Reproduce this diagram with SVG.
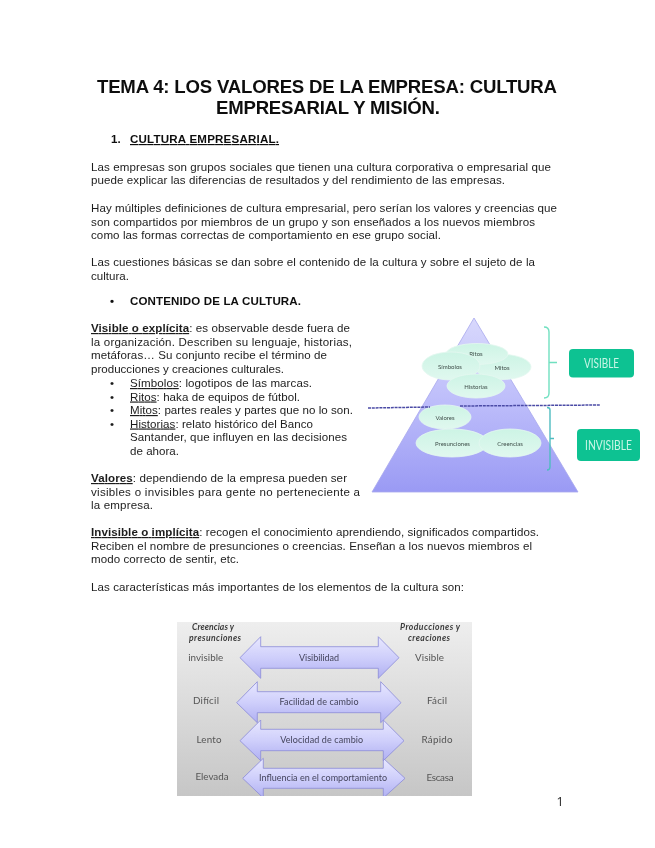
<svg xmlns="http://www.w3.org/2000/svg" width="655" height="848" viewBox="0 0 655 848">
<style>
text{font-family:"Liberation Sans",Arial,sans-serif;fill:#1c1c1c}
.b{font-size:11.55px}
.t{font-size:18.6px;font-weight:bold;fill:#111}
.h{font-size:11.55px;font-weight:bold;fill:#111}
.u{text-decoration:underline}
.bu{font-weight:bold;text-decoration:underline}
.pl{font-family:Lato,"Open Sans",sans-serif;font-size:6px;fill:#3f4f4a;text-anchor:middle}
.tag{font-family:Lato,"Open Sans",sans-serif;fill:#c8f5e6;text-anchor:middle;font-size:13px}
.al{font-family:Lato,"Open Sans",sans-serif;font-size:9.8px;fill:#555;text-anchor:middle}
.ar{font-family:Lato,"Open Sans",sans-serif;font-size:9px;fill:#44445c;text-anchor:middle}
.ah{font-family:Lato,"Open Sans",sans-serif;font-size:8.6px;font-style:italic;font-weight:bold;fill:#3c3c3c;text-anchor:middle}
.el{fill:url(#eg);stroke:#e4f8f0;stroke-width:.8}
.arrow{fill:url(#ag);stroke:#8a8ad8;stroke-width:.8}
.br{fill:none;stroke:#70e0c0;stroke-width:1.4}
.dash{fill:none;stroke:#4c4ca6;stroke-width:1.5;stroke-dasharray:3 .8}
</style>
<defs>
<linearGradient id="pg" x1="0" y1="0" x2="0" y2="1"><stop offset="0" stop-color="#d8d8fc"/><stop offset=".5" stop-color="#bcbcfa"/><stop offset="1" stop-color="#9a9af4"/></linearGradient>
<linearGradient id="eg" x1="0" y1="0" x2="0" y2="1"><stop offset="0" stop-color="#cdf4e5"/><stop offset="1" stop-color="#e0f8ef"/></linearGradient>
<linearGradient id="ag" x1="0" y1="0" x2="0" y2="1"><stop offset="0" stop-color="#e8e8ff"/><stop offset=".5" stop-color="#cfcffb"/><stop offset="1" stop-color="#b0b0f2"/></linearGradient>
<linearGradient id="gg" x1="0" y1="0" x2="0" y2="1"><stop offset="0" stop-color="#eeeeee"/><stop offset=".5" stop-color="#dadada"/><stop offset="1" stop-color="#c6c6c6"/></linearGradient>
<filter id="s" x="-5%" y="-5%" width="110%" height="110%"><feGaussianBlur stdDeviation="0.5"/></filter>
<filter id="s2" x="-5%" y="-5%" width="110%" height="110%"><feGaussianBlur stdDeviation="0.25"/></filter>
<clipPath id="c2"><rect x="177" y="622" width="295" height="174"/></clipPath>
</defs>
<rect width="655" height="848" fill="#fff"/>

<g id="page-text" filter="url(#s2)">
<text class="t" x="97" y="93" textLength="460">TEMA 4: LOS VALORES DE LA EMPRESA: CULTURA</text>
<text class="t" x="216" y="113.500" textLength="224">EMPRESARIAL Y MISIÓN.</text>
<text class="h" x="111" y="143">1.</text>
<text class="h u" x="130" y="143" textLength="149">CULTURA EMPRESARIAL.</text>
<text class="b" x="91" y="170.500" textLength="460">Las empresas son grupos sociales que tienen una cultura corporativa o empresarial que</text>
<text class="b" x="91" y="184" textLength="414">puede explicar las diferencias de resultados y del rendimiento de las empresas.</text>
<text class="b" x="91" y="212" textLength="466">Hay múltiples definiciones de cultura empresarial, pero serían los valores y creencias que</text>
<text class="b" x="91" y="225.500" textLength="444">son compartidos por miembros de un grupo y son enseñados a los nuevos miembros</text>
<text class="b" x="91" y="239" textLength="350">como las formas correctas de comportamiento en ese grupo social.</text>
<text class="b" x="91" y="266" textLength="444">Las cuestiones básicas se dan sobre el contenido de la cultura y sobre el sujeto de la</text>
<text class="b" x="91" y="279.500" textLength="38">cultura.</text>
<text class="h" x="110" y="305">•</text>
<text class="h" x="130" y="305" textLength="171">CONTENIDO DE LA CULTURA.</text>
<text class="b" x="91" y="332" textLength="259"><tspan class="bu">Visible o explícita</tspan>: es observable desde fuera de</text>
<text class="b" x="91" y="346" textLength="261">la organización. Describen su lenguaje, historias,</text>
<text class="b" x="91" y="359" textLength="236">metáforas… Su conjunto recibe el término de</text>
<text class="b" x="91" y="373" textLength="193">producciones y creaciones culturales.</text>
<text class="b" x="110" y="387">•</text>
<text class="b" x="130" y="387" textLength="182"><tspan class="u">Símbolos</tspan>: logotipos de las marcas.</text>
<text class="b" x="110" y="400.500">•</text>
<text class="b" x="130" y="400.500" textLength="170"><tspan class="u">Ritos</tspan>: haka de equipos de fútbol.</text>
<text class="b" x="110" y="414">•</text>
<text class="b" x="130" y="414" textLength="223"><tspan class="u">Mitos</tspan>: partes reales y partes que no lo son.</text>
<text class="b" x="110" y="427.500">•</text>
<text class="b" x="130" y="427.500" textLength="183"><tspan class="u">Historias</tspan>: relato histórico del Banco</text>
<text class="b" x="130" y="441" textLength="217">Santander, que influyen en las decisiones</text>
<text class="b" x="130" y="454.500" textLength="49">de ahora.</text>
<text class="b" x="91" y="482" textLength="256"><tspan class="bu">Valores</tspan>: dependiendo de la empresa pueden ser</text>
<text class="b" x="91" y="495.500" textLength="269">visibles o invisibles para gente no perteneciente a</text>
<text class="b" x="91" y="509" textLength="62">la empresa.</text>
<text class="b" x="91" y="536" textLength="448"><tspan class="bu">Invisible o implícita</tspan>: recogen el conocimiento aprendiendo, significados compartidos.</text>
<text class="b" x="91" y="549.500" textLength="441">Reciben el nombre de presunciones o creencias. Enseñan a los nuevos miembros el</text>
<text class="b" x="91" y="563" textLength="148">modo correcto de sentir, etc.</text>
<text class="b" x="91" y="591" textLength="373">Las características más importantes de los elementos de la cultura son:</text>
<text id="page-number" x="556.500" y="806" style="font-family:'Open Sans',sans-serif;font-size:12.5px;fill:#222">1</text>
</g>

<g id="pyramid-figure" filter="url(#s)">
<polygon id="pyramid" points="474,318 578,492 372,492" fill="url(#pg)" stroke="#a8a8ee" stroke-width=".8"/>
<g id="n-mitos"><ellipse class="el" cx="503" cy="367" rx="28" ry="12.500"/><text class="pl" x="502" y="369.500">Mitos</text></g>
<g id="n-ritos"><ellipse class="el" cx="477" cy="354" rx="31" ry="10.500"/><text class="pl" x="476" y="356">Ritos</text></g>
<g id="n-simbolos"><ellipse class="el" cx="451" cy="366" rx="29" ry="14"/><text class="pl" x="450" y="368.500">Símbolos</text></g>
<g id="n-historias"><ellipse class="el" cx="476" cy="386" rx="29" ry="12"/><text class="pl" x="476" y="388.500">Historias</text></g>
<g id="n-valores"><ellipse class="el" cx="445" cy="417" rx="26" ry="12"/><text class="pl" x="445" y="419.500">Valores</text></g>
<g id="n-presunciones"><ellipse class="el" cx="452" cy="443" rx="36" ry="14"/><text class="pl" x="452.500" y="445.500">Presunciones</text></g>
<g id="n-creencias"><ellipse class="el" cx="510" cy="443" rx="31" ry="14"/><text class="pl" x="510" y="445.500">Creencias</text></g>
<g id="connectors-pyramid">
<path class="dash" d="M368 408 L430 407"/>
<path class="dash" d="M460 406 L600 405"/>
<path class="br" d="M544 327 Q549 327 549 332 L549 393 Q549 398 544 398 M549 362.500 H557"/>
<path class="br" style="stroke:#50bcc0" d="M547 407.500 Q550 407.500 550 410 L550 467 Q550 470 547 470 M550 438.500 H554"/>
</g>
<g id="n-visible"><rect x="569" y="349" width="65" height="28.500" rx="4" fill="#10c292"/><text class="tag" x="601.500" y="368" textLength="35" lengthAdjust="spacingAndGlyphs">VISIBLE</text></g>
<g id="n-invisible"><rect x="577" y="429" width="63" height="32" rx="4" fill="#10c292"/><text class="tag" x="608.500" y="449.500" textLength="47" lengthAdjust="spacingAndGlyphs">INVISIBLE</text></g>
</g>

<g id="scale-figure" filter="url(#s)" clip-path="url(#c2)">
<rect x="177" y="622" width="295" height="174" fill="url(#gg)"/>
<g id="connectors-scale">
<path id="a4" class="arrow" d="M242.700 778.300 L263.300 758.300 V768.300 H383.300 V758.300 L405 778.300 L383.300 798 V788.300 H263.300 V798 Z"/>
<path id="a3" class="arrow" d="M240 740.700 L260.700 720 V729.300 H383.300 V720 L404 740.700 L383.300 760.700 V750.700 H260.700 V760.700 Z"/>
<path id="a2" class="arrow" d="M236.700 702.700 L257.300 681.700 V691.700 H380.700 V681.700 L401 702.700 L380.700 722.700 V712.700 H257.300 V722.700 Z"/>
<path id="a1" class="arrow" d="M240 657.700 L260.700 636.700 V646.700 H378.300 V636.700 L399 657.700 L378.300 678.300 V668.300 H260.700 V678.300 Z"/>
</g>
<text class="ah" x="213" y="630" textLength="42">Creencias y</text>
<text class="ah" x="215" y="641" textLength="52">presunciones</text>
<text class="ah" x="430" y="630" textLength="60">Producciones y</text>
<text class="ah" x="429" y="641" textLength="42">creaciones</text>
<text class="al" x="205.700" y="660.500" textLength="35">invisible</text>
<text class="al" x="429.500" y="660.500" textLength="29">Visible</text>
<text class="al" x="206" y="704" textLength="26">Difícil</text>
<text class="al" x="437" y="704" textLength="20">Fácil</text>
<text class="al" x="209" y="742.500" textLength="25">Lento</text>
<text class="al" x="437" y="742.500" textLength="31">Rápido</text>
<text class="al" x="212" y="780" textLength="33">Elevada</text>
<text class="al" x="440" y="780.500" textLength="27">Escasa</text>
<text class="ar" x="319" y="660.700" textLength="40">Visibilidad</text>
<text class="ar" x="319" y="705" textLength="79">Facilidad de cambio</text>
<text class="ar" x="321.700" y="743" textLength="83">Velocidad de cambio</text>
<text class="ar" x="323" y="781" textLength="128">Influencia en el comportamiento</text>
</g>
</svg>
